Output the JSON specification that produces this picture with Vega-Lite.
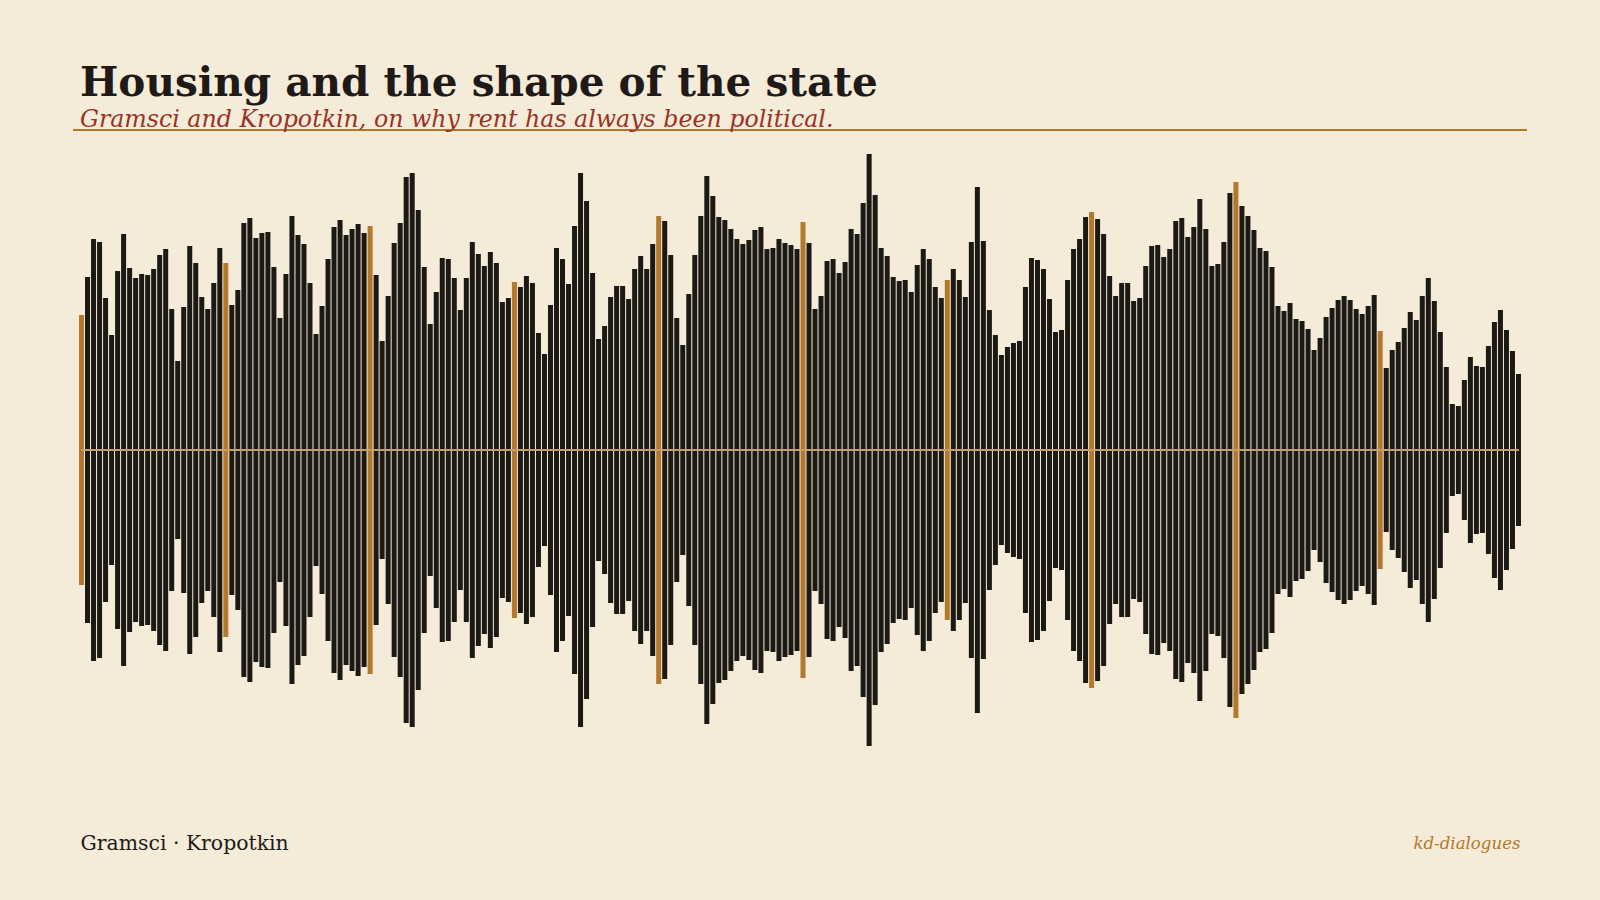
{
  "$schema": "https://vega.github.io/schema/vega-lite/v6.json",
  "width": 1454,
  "height": 600,
  "autosize": {"type": "none"},
  "padding": {"left": 73, "top": 150, "right": 73, "bottom": 150},
  "background": "#f4ecd9",
  "config": {"view": {"stroke": null}},
  "title": {
    "text": "Housing and the shape of the state",
    "subtitle": "Gramsci and Kropotkin, on why rent has always been political.",
    "anchor": "start",
    "frame": "group",
    "dx": 7,
    "offset": -2,
    "font": "DejaVu Serif",
    "fontSize": 40.6,
    "fontWeight": "bold",
    "color": "#1f1a17",
    "subtitleFont": "DejaVu Serif",
    "subtitleFontStyle": "italic",
    "subtitleFontSize": 23.7,
    "subtitleColor": "#9a3324",
    "subtitlePadding": 3
  },
  "data": {"values": [
    {"i":0,"v":135},{"i":1,"v":173},{"i":2,"v":211},{"i":3,"v":208},{"i":4,"v":152},{"i":5,"v":115},{"i":6,"v":179},{"i":7,"v":216},{"i":8,"v":182},{"i":9,"v":172},
    {"i":10,"v":176},{"i":11,"v":175},{"i":12,"v":181},{"i":13,"v":195},{"i":14,"v":201},{"i":15,"v":141},{"i":16,"v":89},{"i":17,"v":143},{"i":18,"v":204},{"i":19,"v":187},
    {"i":20,"v":153},{"i":21,"v":141},{"i":22,"v":167},{"i":23,"v":202},{"i":24,"v":187},{"i":25,"v":145},{"i":26,"v":160},{"i":27,"v":227},{"i":28,"v":232},{"i":29,"v":212},
    {"i":30,"v":217},{"i":31,"v":218},{"i":32,"v":183},{"i":33,"v":132},{"i":34,"v":176},{"i":35,"v":234},{"i":36,"v":215},{"i":37,"v":206},{"i":38,"v":167},{"i":39,"v":116},
    {"i":40,"v":144},{"i":41,"v":191},{"i":42,"v":223},{"i":43,"v":230},{"i":44,"v":215},{"i":45,"v":221},{"i":46,"v":226},{"i":47,"v":217},{"i":48,"v":224},{"i":49,"v":175},
    {"i":50,"v":109},{"i":51,"v":154},{"i":52,"v":207},{"i":53,"v":227},{"i":54,"v":273},{"i":55,"v":277},{"i":56,"v":240},{"i":57,"v":183},{"i":58,"v":126},{"i":59,"v":158},
    {"i":60,"v":192},{"i":61,"v":191},{"i":62,"v":172},{"i":63,"v":140},{"i":64,"v":172},{"i":65,"v":208},{"i":66,"v":196},{"i":67,"v":184},{"i":68,"v":198},{"i":69,"v":187},
    {"i":70,"v":148},{"i":71,"v":152},{"i":72,"v":168},{"i":73,"v":163},{"i":74,"v":174},{"i":75,"v":167},{"i":76,"v":117},{"i":77,"v":96},{"i":78,"v":145},{"i":79,"v":202},
    {"i":80,"v":191},{"i":81,"v":166},{"i":82,"v":224},{"i":83,"v":277},{"i":84,"v":249},{"i":85,"v":177},{"i":86,"v":111},{"i":87,"v":124},{"i":88,"v":153},{"i":89,"v":164},
    {"i":90,"v":164},{"i":91,"v":151},{"i":92,"v":181},{"i":93,"v":194},{"i":94,"v":181},{"i":95,"v":206},{"i":96,"v":234},{"i":97,"v":229},{"i":98,"v":195},{"i":99,"v":132},
    {"i":100,"v":105},{"i":101,"v":156},{"i":102,"v":195},{"i":103,"v":234},{"i":104,"v":274},{"i":105,"v":254},{"i":106,"v":233},{"i":107,"v":230},{"i":108,"v":221},{"i":109,"v":211},
    {"i":110,"v":206},{"i":111,"v":210},{"i":112,"v":220},{"i":113,"v":223},{"i":114,"v":201},{"i":115,"v":202},{"i":116,"v":211},{"i":117,"v":207},{"i":118,"v":205},{"i":119,"v":201},
    {"i":120,"v":228},{"i":121,"v":207},{"i":122,"v":141},{"i":123,"v":154},{"i":124,"v":189},{"i":125,"v":191},{"i":126,"v":177},{"i":127,"v":188},{"i":128,"v":221},{"i":129,"v":216},
    {"i":130,"v":247},{"i":131,"v":296},{"i":132,"v":255},{"i":133,"v":202},{"i":134,"v":194},{"i":135,"v":173},{"i":136,"v":169},{"i":137,"v":170},{"i":138,"v":158},{"i":139,"v":185},
    {"i":140,"v":201},{"i":141,"v":191},{"i":142,"v":163},{"i":143,"v":152},{"i":144,"v":170},{"i":145,"v":181},{"i":146,"v":170},{"i":147,"v":153},{"i":148,"v":208},{"i":149,"v":263},
    {"i":150,"v":209},{"i":151,"v":140},{"i":152,"v":115},{"i":153,"v":95},{"i":154,"v":103},{"i":155,"v":107},{"i":156,"v":109},{"i":157,"v":163},{"i":158,"v":192},{"i":159,"v":190},
    {"i":160,"v":181},{"i":161,"v":151},{"i":162,"v":118},{"i":163,"v":120},{"i":164,"v":170},{"i":165,"v":201},{"i":166,"v":211},{"i":167,"v":233},{"i":168,"v":238},{"i":169,"v":231},
    {"i":170,"v":216},{"i":171,"v":174},{"i":172,"v":154},{"i":173,"v":167},{"i":174,"v":167},{"i":175,"v":149},{"i":176,"v":152},{"i":177,"v":184},{"i":178,"v":204},{"i":179,"v":205},
    {"i":180,"v":193},{"i":181,"v":201},{"i":182,"v":229},{"i":183,"v":232},{"i":184,"v":213},{"i":185,"v":223},{"i":186,"v":251},{"i":187,"v":221},{"i":188,"v":184},{"i":189,"v":186},
    {"i":190,"v":208},{"i":191,"v":257},{"i":192,"v":268},{"i":193,"v":244},{"i":194,"v":234},{"i":195,"v":220},{"i":196,"v":202},{"i":197,"v":199},{"i":198,"v":183},{"i":199,"v":144},
    {"i":200,"v":139},{"i":201,"v":147},{"i":202,"v":131},{"i":203,"v":129},{"i":204,"v":121},{"i":205,"v":100},{"i":206,"v":112},{"i":207,"v":133},{"i":208,"v":142},{"i":209,"v":150},
    {"i":210,"v":154},{"i":211,"v":150},{"i":212,"v":141},{"i":213,"v":136},{"i":214,"v":144},{"i":215,"v":155},{"i":216,"v":119},{"i":217,"v":82},{"i":218,"v":100},{"i":219,"v":108},
    {"i":220,"v":122},{"i":221,"v":138},{"i":222,"v":130},{"i":223,"v":154},{"i":224,"v":172},{"i":225,"v":149},{"i":226,"v":118},{"i":227,"v":83},{"i":228,"v":46},{"i":229,"v":44},
    {"i":230,"v":70},{"i":231,"v":93},{"i":232,"v":84},{"i":233,"v":83},{"i":234,"v":104},{"i":235,"v":128},{"i":236,"v":140},{"i":237,"v":120},{"i":238,"v":99},{"i":239,"v":76}
  ]},
  "layer": [
    {
      "transform": [{"calculate": "-datum.v", "as": "lo"}],
      "mark": {"type": "bar"},
      "encoding": {
        "x": {
          "field": "i", "type": "ordinal",
          "scale": {"paddingInner": 0.1667, "paddingOuter": 1.25},
          "axis": {
            "labels": false, "ticks": false, "domain": false, "grid": false,
            "title": "Gramsci · Kropotkin",
            "titleAnchor": "start", "titleAlign": "left", "titleBaseline": "alphabetic",
            "titleX": 7, "titleY": 99,
            "titleFont": "DejaVu Serif", "titleFontSize": 20.4, "titleFontWeight": "normal", "titleColor": "#1f1a17"
          }
        },
        "y": {
          "field": "lo", "type": "quantitative",
          "scale": {"domain": [-300, 300]},
          "axis": {
            "orient": "right",
            "labels": false, "ticks": false, "domain": false, "grid": false,
            "title": "kd-dialogues",
            "titleAngle": 0, "titleAlign": "right", "titleBaseline": "alphabetic",
            "titleX": -7, "titleY": 698,
            "titleFont": "DejaVu Serif", "titleFontStyle": "italic", "titleFontSize": 16.6, "titleFontWeight": "normal", "titleColor": "#b5772b"
          }
        },
        "y2": {"field": "v"},
        "color": {"condition": {"test": "datum.i % 24 === 0", "value": "#b5772b"}, "value": "#1c1915"}
      }
    },
    {
      "mark": {"type": "rule", "color": "#c9a06a", "strokeWidth": 1, "opacity": 0.6},
      "encoding": {
        "x": {"datum": 0, "type": "ordinal"},
        "x2": {"datum": 239},
        "y": {"datum": 0, "type": "quantitative"}
      }
    },
    {
      "mark": {"type": "rule", "color": "#b5772b", "strokeWidth": 1},
      "encoding": {
        "y": {"datum": 320, "type": "quantitative"}
      }
    }
  ]
}
